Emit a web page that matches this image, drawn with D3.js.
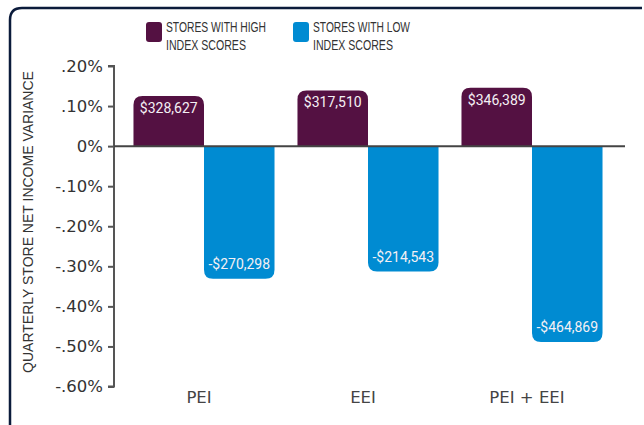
<!DOCTYPE html>
<html lang="en">
  <head>
    <meta charset="utf-8" />
    <title>Quarterly store net income variance</title>
    <script src="https://cdnjs.cloudflare.com/ajax/libs/d3/7.8.5/d3.min.js"></script>
    <style>
      body { margin: 0; background: #fff; overflow: hidden; }
    </style>
  </head>
  <body>
    <div id="chart"></div>
    <script>
    // data
    var categories = ["PEI", "EEI", "PEI + EEI"];
    var series = ["high", "low"];
    var seriesNames = [["STORES WITH HIGH", "INDEX SCORES"], ["STORES WITH LOW", "INDEX SCORES"]];
    var highValues = [0.125, 0.139, 0.146];
    var lowValues = [-0.331, -0.313, -0.489];
    var highLabels = ["$328,627", "$317,510", "$346,389"];
    var lowLabels = ["-$270,298", "-$214,543", "-$464,869"];
    var yTicks = [0.2, 0.1, 0, -0.1, -0.2, -0.3, -0.4, -0.5, -0.6];
    var yTickLabels = [".20%", ".10%", "0%", "-.10%", "-.20%", "-.30%", "-.40%", "-.50%", "-.60%"];

    var colors = { high: "#541142", low: "#008bd2" };
    var W = 644, H = 425;

    var svg = d3.select("#chart").append("svg")
        .attr("width", W)
        .attr("height", H);

    // frame (only top and left edges are in view)
    svg.append("path")
        .attr("d", "M10,430 L10,20 Q10,8 22,8 L642,8")
        .attr("fill", "none")
        .attr("stroke", "#0b1b3b")
        .attr("stroke-width", 2.5);

    var y = d3.scaleLinear()
        .domain([-0.6, 0.2])
        .range([386.5, 66]);

    var x0 = d3.scaleBand()
        .domain(categories)
        .range([122, 614])
        .paddingInner(0.14)
        .paddingOuter(0.07);

    var x1 = d3.scaleBand()
        .domain(series)
        .range([0, x0.bandwidth()]);

    // y axis
    var yAxis = d3.axisLeft(y)
        .tickValues(yTicks)
        .tickFormat(function(d, i) { return yTickLabels[i]; })
        .tickSize(6)
        .tickPadding(5);

    var gy = svg.append("g")
        .attr("transform", "translate(114,0)")
        .call(yAxis);
    gy.select(".domain")
        .attr("stroke", "#555")
        .attr("stroke-width", 2)
        .attr("d", "M-6," + y(0.2) + "H0V" + y(-0.6) + "H-6");
    gy.selectAll(".tick line").attr("stroke", "#555").attr("stroke-width", 2);
    gy.selectAll(".tick text")
        .attr("fill", "#333")
        .style("font-family", "'DejaVu Sans', sans-serif")
        .style("font-size", "16.5px");

    // rounded-end bar path
    function barPath(x, w, y0, y1, r) {
      var s = y1 < y0 ? 1 : -1;
      return "M" + x + "," + y0 + "V" + (y1 + s * r) +
        "Q" + x + "," + y1 + " " + (x + r) + "," + y1 +
        "H" + (x + w - r) +
        "Q" + (x + w) + "," + y1 + " " + (x + w) + "," + (y1 + s * r) +
        "V" + y0 + "Z";
    }

    var rows = categories.map(function(c, i) {
      return [
        { cat: c, key: "high", value: highValues[i], label: highLabels[i] },
        { cat: c, key: "low", value: lowValues[i], label: lowLabels[i] }
      ];
    });

    var groups = svg.selectAll("g.group")
      .data(rows)
      .enter().append("g")
        .attr("class", "group")
        .attr("transform", function(d) { return "translate(" + x0(d[0].cat) + ",0)"; });

    groups.selectAll("path.bar")
      .data(function(d) { return d; })
      .enter().append("path")
        .attr("class", "bar")
        .attr("fill", function(d) { return colors[d.key]; })
        .attr("d", function(d) {
          return barPath(x1(d.key), x1.bandwidth(), y(0), y(d.value), 9);
        });

    groups.selectAll("text.val")
      .data(function(d) { return d; })
      .enter().append("text")
        .attr("class", "val")
        .attr("x", function(d) { return x1(d.key) + x1.bandwidth() / 2; })
        .attr("y", function(d) { return d.value > 0 ? y(d.value) + 17 : y(d.value) - 10; })
        .attr("text-anchor", "middle")
        .attr("fill", "#f4f0f4")
        .style("font-family", "Roboto, sans-serif")
        .style("font-size", "14px")
        .text(function(d) { return d.label; });

    // zero line
    svg.append("line")
        .attr("x1", 114).attr("x2", 625)
        .attr("y1", y(0)).attr("y2", y(0))
        .attr("stroke", "#444")
        .attr("stroke-width", 2);

    // category labels
    svg.selectAll("text.cat")
      .data(categories)
      .enter().append("text")
        .attr("class", "cat")
        .attr("x", function(d) { return x0(d) + x0.bandwidth() / 2 - 5; })
        .attr("y", 403)
        .attr("text-anchor", "middle")
        .attr("fill", "#444")
        .style("font-family", "'DejaVu Sans', sans-serif")
        .style("font-size", "16.5px")
        .text(function(d) { return d; });

    // y axis title
    svg.append("text")
        .attr("transform", "translate(33,222) rotate(-90)")
        .attr("text-anchor", "middle")
        .attr("fill", "#333")
        .style("font-family", "'Liberation Sans', Arial, sans-serif")
        .style("font-size", "14px")
        .text("QUARTERLY STORE NET INCOME VARIANCE");

    // legend (condensed caps, squeezed to the widths seen in the picture)
    var legendX = [146, 293];
    var legendLen = [[100, 80], [97, 80]];
    var legend = svg.selectAll("g.legend")
      .data(series)
      .enter().append("g")
        .attr("class", "legend")
        .attr("transform", function(d, i) { return "translate(" + legendX[i] + ",22)"; });
    legend.append("rect")
        .attr("width", 16).attr("height", 20)
        .attr("rx", 3)
        .attr("fill", function(d) { return colors[d]; });
    legend.each(function(d, i) {
      var g = d3.select(this);
      seriesNames[i].forEach(function(line, j) {
        g.append("text")
            .attr("x", 20)
            .attr("y", 10 + j * 18)
            .attr("fill", "#333")
            .attr("textLength", legendLen[i][j])
            .attr("lengthAdjust", "spacingAndGlyphs")
            .style("font-family", "'Liberation Sans', Arial, sans-serif")
            .style("font-size", "14px")
            .text(line);
      });
    });
    </script>
  </body>
</html>
